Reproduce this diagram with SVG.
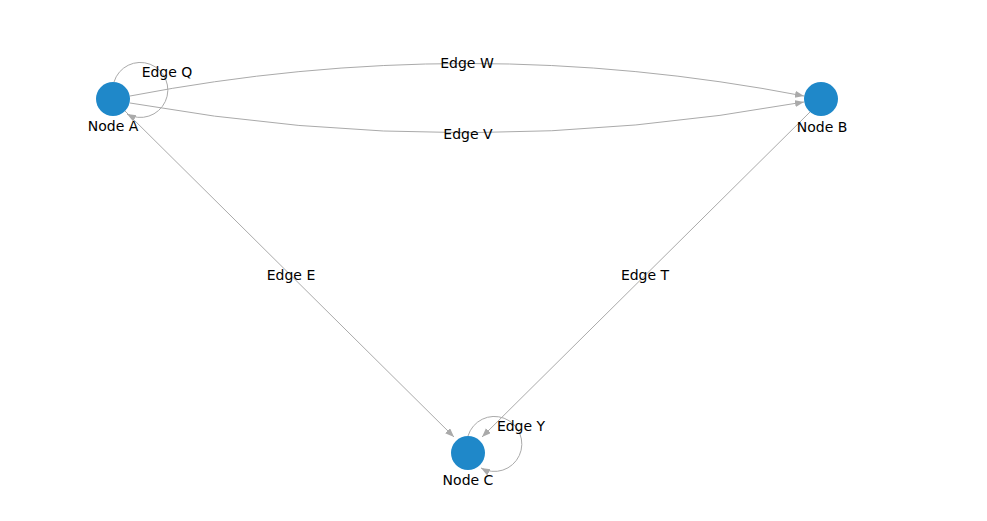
<svg xmlns="http://www.w3.org/2000/svg" width="987" height="521" viewBox="0 0 987 521">
<style>
.edge{fill:none;stroke:#aaaaaa;stroke-width:1}
.node{fill:#1f88c9}
.nl{font-family:"DejaVu Sans",sans-serif;font-size:14px;fill:#000;text-anchor:middle}
.el{font-family:"DejaVu Sans",sans-serif;font-size:14px;fill:#000;text-anchor:middle}
</style>
<defs>
<marker id="arr" markerWidth="10" markerHeight="8" refX="9" refY="3.5" orient="auto" markerUnits="userSpaceOnUse">
<path d="M0,0 L9,3.5 L0,7 z" fill="#aaaaaa"/>
</marker>
</defs>
<rect width="987" height="521" fill="#ffffff"/>
<g id="connectors">
<path id="edge-W" class="edge" d="M130 96 Q468 31 804 96" marker-end="url(#arr)"/>
<path id="edge-V" class="edge" d="M130 103 Q468 163 804 102" marker-end="url(#arr)"/>
<path id="edge-E" class="edge" d="M125 111 L454 437" marker-end="url(#arr)"/>
<path id="edge-T" class="edge" d="M810 112 L482 437" marker-end="url(#arr)"/>
<path id="edge-Q" class="edge" d="M114 82 A27.5 27.5 0 1 1 127 114" marker-end="url(#arr)"/>
<path id="edge-Y" class="edge" d="M468 436 A27.5 27.5 0 1 1 481 468" marker-end="url(#arr)"/>
<text class="el" x="467" y="68">Edge W</text>
<text class="el" x="468" y="139">Edge V</text>
<text class="el" x="291" y="280">Edge E</text>
<text class="el" x="645" y="280">Edge T</text>
<text class="el" x="167" y="77">Edge Q</text>
<text class="el" x="521" y="431">Edge Y</text>
</g>
<g id="node-A">
<circle class="node" cx="113" cy="99" r="17"/>
<text class="nl" x="113" y="131">Node A</text>
</g>
<g id="node-B">
<circle class="node" cx="821" cy="99" r="17"/>
<text class="nl" x="822" y="132">Node B</text>
</g>
<g id="node-C">
<circle class="node" cx="468" cy="453" r="17"/>
<text class="nl" x="468" y="485">Node C</text>
</g>
</svg>
